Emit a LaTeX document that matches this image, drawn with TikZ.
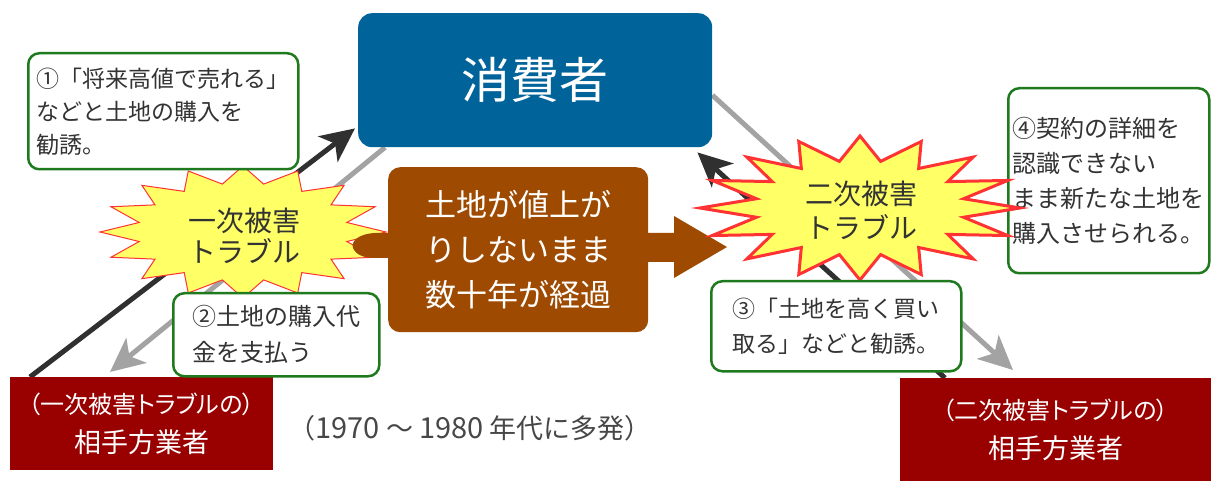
\documentclass[tikz,border=0pt]{standalone}
\usepackage{fontspec}
\setmainfont{Noto Sans CJK JP}
\newfontfamily\jpp[RawFeature=+palt]{Noto Sans CJK JP}
\usetikzlibrary{arrows.meta,backgrounds,calc}
\definecolor{consblue}{HTML}{00649A}
\definecolor{landbrown}{HTML}{9E4A00}
\definecolor{firmred}{HTML}{990000}
\definecolor{calloutgreen}{HTML}{1F7A1F}
\definecolor{burstyellow}{HTML}{FFFF66}
\definecolor{burstred}{HTML}{FF3333}
\definecolor{txtgray}{HTML}{333333}
\definecolor{arrowdark}{HTML}{303030}
\definecolor{arrowgray}{HTML}{A3A3A3}
\begin{document}
\begin{tikzpicture}[x=1pt,y=-1pt,
  consbox/.style={fill=consblue, rounded corners=14pt, text=white, inner sep=0pt,
    font=\fontsize{49}{55}\selectfont},
  brownbox/.style={fill=landbrown, rounded corners=12pt, text=white, inner sep=0pt,
    align=center, font=\fontsize{31}{45}\selectfont},
  callout/.style={draw=calloutgreen, line width=2.5pt, fill=white, rounded corners=11pt,
    text=txtgray, align=left, inner sep=0pt},
  firmbox/.style={fill=firmred, text=white, inner sep=0pt, align=center,
    font=\fontsize{27}{39}\selectfont},
  bursttext/.style={text=txtgray, align=center, inner sep=0pt},
  darkarrow/.style={draw=arrowdark, line width=5pt,
    -{Stealth[length=34pt,width=32pt,inset=9pt]}},
  grayarrow/.style={draw=arrowgray, line width=5pt,
    -{Stealth[length=34pt,width=32pt,inset=9pt]}},
]
\useasboundingbox (0,0) rectangle (1211,481);

% main boxes
\node[consbox, anchor=north west, minimum width=354pt, minimum height=134pt] (cons) at (358,13) {消費者};
\node[firmbox, anchor=north west, minimum width=263pt, minimum height=93pt] (rb1) at (10,377)
  {{\jpp\fontsize{24}{39}\selectfont （一次被害トラブルの）}\\相手方業者};
\node[firmbox, anchor=north west, minimum width=311pt, minimum height=103pt] (rb2) at (900,378)
  {{\jpp\fontsize{24}{37}\selectfont （二次被害トラブルの）}\\相手方業者};

% connectors (behind everything)
\begin{pgfonlayer}{background}
\draw[darkarrow] ([xshift=20pt]rb1.north west) -- ([xshift=-3pt,yshift=19pt]cons.south west);
\draw[grayarrow] ([xshift=27pt]cons.south west) -- ([xshift=100pt,yshift=5pt]rb1.north west);
\draw[grayarrow] ([yshift=-15pt]cons.east) -- ([xshift=113pt,yshift=8pt]rb2.north west);
\draw[darkarrow] ([xshift=45pt]rb2.north west) -- ([xshift=-15pt,yshift=-5pt]cons.south east);
\end{pgfonlayer}

% first starburst
\filldraw[fill=burstyellow, draw=burstred, line width=1pt, line join=miter]
  plot[domain=0:360, samples=33, variable=\t]
  ({243+143*(0.87+0.13*cos(16*\t))*cos(\t)}, {232+66*(0.87+0.13*cos(16*\t))*sin(\t)}) -- cycle;
\node[bursttext, font=\fontsize{28}{31}\selectfont] (b1) at (244,236) {一次被害\\トラブル};

% brown box with arrow
\fill[landbrown] (395,233) -- (375,233) .. controls (357,234) and (351,242) .. (353,248)
  .. controls (356,255) and (364,258) .. (376,258) -- (395,258) -- cycle;
\fill[landbrown] (640,233) -- (674,233) -- (674,216) -- (727,247) -- (674,278) -- (674,262) -- (640,262) -- cycle;
\node[brownbox, anchor=north west, minimum width=260pt, minimum height=165pt] (brn) at (388,167)
  {土地が値上が\\りしないまま\\数十年が経過};

% callout 4 (under the second starburst)
\node[callout, anchor=north west, minimum width=201pt, minimum height=185pt,
  font=\fontsize{24}{35}\selectfont] (c4) at (1007,87)
  {④契約の詳細を\\認識できない\\まま新たな土地を\\購入させられる。};

% second starburst
\filldraw[fill=burstyellow, draw=burstred, line width=3pt, line join=miter]
  plot[domain=0:360, samples=33, variable=\t]
  ({860+160*(0.83+0.17*cos(16*\t))*cos(\t)}, {208+72*(0.83+0.17*cos(16*\t))*sin(\t)}) -- cycle;
\node[bursttext, font=\fontsize{28}{34}\selectfont] (b2) at (861,210) {二次被害\\トラブル};

% callouts
\node[callout, anchor=north west, minimum width=270pt, minimum height=116pt,
  font=\fontsize{23}{33}\selectfont] (c1) at (27,52)
  {①「将来高値で売れる」\\などと土地の購入を\\勧誘。};
\node[callout, anchor=north west, minimum width=206pt, minimum height=83pt,
  font=\fontsize{24}{36}\selectfont] (c2) at (172,292)
  {②土地の購入代\\金を支払う};
\node[callout, anchor=north west, minimum width=250pt, minimum height=90pt,
  font=\fontsize{23}{35}\selectfont] (c3) at (710,280)
  {③「土地を高く買い\\取る」などと勧誘。};

% period note
\node[text=txtgray!90!white, inner sep=0pt, font=\fontsize{27}{30}\selectfont] (yr) at (470,428)
  {（{\fontsize{29}{30}\selectfont 1970}\hspace{6pt}～\hspace{6pt}{\fontsize{29}{30}\selectfont 1980}\hspace{6pt}年代に多発）};
\end{tikzpicture}
\end{document}
